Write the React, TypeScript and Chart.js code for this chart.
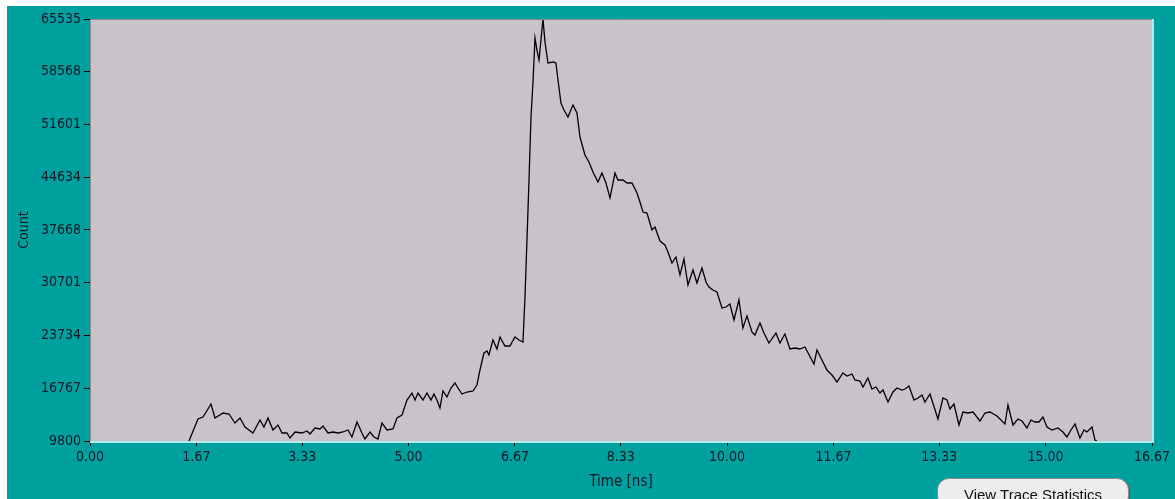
import React, { useEffect, useRef } from "react";
import { Chart, registerables } from "chart.js";

Chart.register(...registerables);

// Time axis (ns) and photon counts
const TIME_NS: number[] = [
  1.554, 1.695, 1.774, 1.899, 1.962, 2.088, 2.182, 2.276, 2.354, 2.433,
  2.558, 2.668, 2.731, 2.794, 2.872, 2.951, 3.014, 3.092, 3.139, 3.218,
  3.328, 3.406, 3.453, 3.532, 3.61, 3.657, 3.736, 3.814, 3.893, 3.971,
  4.05, 4.112, 4.191, 4.269, 4.316, 4.395, 4.458, 4.52, 4.583, 4.662,
  4.756, 4.819, 4.897, 4.976, 5.054, 5.101, 5.148, 5.227, 5.289, 5.352,
  5.399, 5.446, 5.493, 5.54, 5.603, 5.666, 5.729, 5.776, 5.839, 5.917,
  6.011, 6.074, 6.121, 6.184, 6.231, 6.262, 6.325, 6.388, 6.435, 6.513,
  6.592, 6.67, 6.733, 6.796, 6.828, 6.859, 6.891, 6.922, 6.953, 6.985,
  7.016, 7.048, 7.079, 7.11, 7.142, 7.189, 7.267, 7.314, 7.346, 7.393,
  7.44, 7.502, 7.581, 7.644, 7.691, 7.769, 7.832, 7.895, 7.973, 8.036,
  8.099, 8.162, 8.24, 8.287, 8.366, 8.429, 8.507, 8.586, 8.633, 8.68,
  8.743, 8.821, 8.868, 8.947, 9.025, 9.072, 9.135, 9.198, 9.261, 9.323,
  9.386, 9.465, 9.527, 9.606, 9.669, 9.716, 9.778, 9.841, 9.92, 9.982,
  10.045, 10.108, 10.186, 10.249, 10.312, 10.39, 10.437, 10.516, 10.579, 10.657,
  10.767, 10.83, 10.908, 10.987, 11.065, 11.144, 11.222, 11.364, 11.411, 11.489,
  11.568, 11.646, 11.725, 11.819, 11.882, 11.96, 12.007, 12.086, 12.133, 12.211,
  12.274, 12.337, 12.4, 12.447, 12.526, 12.604, 12.667, 12.745, 12.793, 12.855,
  12.934, 12.997, 13.059, 13.106, 13.185, 13.31, 13.389, 13.452, 13.499, 13.561,
  13.64, 13.703, 13.781, 13.86, 13.97, 14.048, 14.127, 14.236, 14.362, 14.409,
  14.488, 14.566, 14.629, 14.707, 14.77, 14.833, 14.896, 14.958, 15.021, 15.1,
  15.194, 15.272, 15.335, 15.398, 15.461, 15.539, 15.602, 15.649, 15.728, 15.775,
  15.806,
];

const COUNTS: number[] = [
  9800, 12706, 12970, 14687, 12838, 13498, 13366, 12177, 12838, 11649,
  10857, 12573, 11649, 12838, 11253, 11913, 10857, 10857, 10196, 10989,
  10857, 11121, 10724, 11517, 11385, 11781, 10857, 10989, 10857, 10989,
  11253, 10328, 12309, 10857, 10064, 10989, 10328, 10064, 12177, 11253,
  11385, 12838, 13234, 15215, 16139, 15215, 16139, 15215, 16139, 15215,
  16007, 15215, 14158, 16404, 15611, 16800, 17460, 16800, 16007, 16271,
  16404, 17196, 19177, 21422, 21686, 21158, 23139, 21950, 23535, 22347,
  22347, 23535, 23139, 22875, 28818, 36346, 44270, 52591, 57081, 63024,
  61439, 60119, 62760, 65535, 62496, 59722, 59855, 59722, 57477, 54440,
  53515, 52591, 54176, 53119, 49949, 47572, 46648, 45327, 44006, 45195,
  43874, 41893, 45195, 44270, 44270, 43874, 43874, 42553, 41364, 40044,
  39912, 37667, 38063, 36214, 35686, 34761, 33308, 34101, 31724, 33837,
  30403, 32384, 30667, 32648, 30799, 30139, 29743, 29478, 27365, 27497,
  27893, 25780, 28422, 24724, 26309, 24196, 23799, 25384, 24063, 22743,
  24063, 22743, 23931, 21950, 22082, 21950, 22215, 19969, 21818, 20498,
  19177, 18517, 17592, 18781, 18385, 18649, 17856, 17724, 16932, 18120,
  16668, 16932, 16139, 16536, 14951, 16271, 16800, 16536, 16668, 17064,
  15215, 15479, 15875, 14951, 16007, 12706, 15479, 15215, 14026, 14687,
  11913, 13630, 13498, 13630, 12441, 13498, 13630, 13102, 12045, 14555,
  11913, 12706, 12441, 11517, 12573, 12309, 12309, 12970, 11649, 11253,
  11517, 10989, 10328, 11253, 12045, 10196, 11253, 10989, 11649, 9932,
  9800,
];

const Y_TICKS: number[] = [9800, 16767, 23734, 30701, 37668, 44634, 51601, 58568, 65535];
const X_TICKS: number[] = [0, 1.67, 3.33, 5.0, 6.67, 8.33, 10.0, 11.67, 13.33, 15.0, 16.67];

const TEAL = "#00A09F";
const PLOT_BG = "#C7C3C9";
const TEXT = "#0E1A28";
const FONT_FAMILY = '"Liberation Sans Narrow", "DejaVu Sans Condensed", "Liberation Sans", Arial, sans-serif';

const frame = {
  id: "frame",
  beforeDraw(chart: any) {
    const { ctx, chartArea: a } = chart;
    ctx.save();
    ctx.fillStyle = PLOT_BG;
    ctx.fillRect(a.left, a.top, a.right - a.left, a.bottom - a.top);
    ctx.restore();
  },
  afterDraw(chart: any) {
    const { ctx, chartArea: a } = chart;
    ctx.save();
    ctx.lineWidth = 1;
    ctx.strokeStyle = "#8A8A8E";
    ctx.beginPath();
    ctx.moveTo(a.left + 0.5, a.bottom);
    ctx.lineTo(a.left + 0.5, a.top + 0.5);
    ctx.lineTo(a.right, a.top + 0.5);
    ctx.stroke();
    ctx.lineWidth = 2;
    ctx.strokeStyle = "#B4ECEC";
    ctx.beginPath();
    ctx.moveTo(a.left, a.bottom + 1);
    ctx.lineTo(a.right + 1, a.bottom + 1);
    ctx.lineTo(a.right + 1, a.top);
    ctx.stroke();
    ctx.restore();
  },
};

export default function App() {
  const ref = useRef<HTMLCanvasElement | null>(null);

  useEffect(() => {
    if (!ref.current) return;
    const data = TIME_NS.map((t, i) => ({ x: t, y: COUNTS[i] }));
    const chart = new Chart(ref.current, {
      type: "line",
      data: {
        datasets: [
          {
            data,
            borderColor: "#000000",
            borderWidth: 1.3,
            pointRadius: 0,
            tension: 0,
            fill: false,
          },
        ],
      },
      options: {
        animation: false,
        responsive: false,
        devicePixelRatio: 1,
        layout: { padding: { left: 0, right: 23, top: 13, bottom: 0 } },
        plugins: { legend: { display: false }, tooltip: { enabled: false } },
        scales: {
          x: {
            type: "linear",
            min: 0,
            max: 16.67,
            afterBuildTicks: (s: any) => {
              s.ticks = X_TICKS.map((v) => ({ value: v }));
            },
            afterFit: (s: any) => {
              s.height = 58;
            },
            grid: { drawOnChartArea: false, drawTicks: true, tickLength: 5, color: "#000000" },
            border: { display: false },
            ticks: {
              color: TEXT,
              padding: 3,
              maxRotation: 0,
              autoSkip: false,
              font: { family: FONT_FAMILY, size: 14 },
              callback: (v: any) => Number(v).toFixed(2),
            },
            title: {
              display: true,
              text: "Time [ns]",
              color: TEXT,
              font: { family: FONT_FAMILY, size: 15 },
              padding: { top: 0, bottom: 8 },
            },
          },
          y: {
            type: "linear",
            min: 9800,
            max: 65535,
            afterBuildTicks: (s: any) => {
              s.ticks = Y_TICKS.map((v) => ({ value: v }));
            },
            afterFit: (s: any) => {
              s.width = 83;
            },
            grid: { drawOnChartArea: false, drawTicks: true, tickLength: 6, color: "#000000" },
            border: { display: false },
            ticks: {
              color: TEXT,
              padding: 3,
              autoSkip: false,
              font: { family: FONT_FAMILY, size: 14 },
              callback: (v: any) => String(v),
            },
            title: {
              display: true,
              text: "Count",
              color: TEXT,
              font: { family: FONT_FAMILY, size: 14 },
              padding: { top: 9, bottom: 0 },
            },
          },
        },
      },
      plugins: [frame],
    });
    return () => chart.destroy();
  }, []);

  return (
    <div>
      <div
        style={{
          position: "fixed",
          left: 7,
          top: 6,
          width: 1168,
          height: 493,
          background: TEAL,
          overflow: "hidden",
        }}
      >
        <canvas ref={ref} width={1168} height={493} style={{ display: "block", width: 1168, height: 493 }} />
        <div
          style={{
            position: "absolute",
            left: 930,
            top: 472,
            width: 192,
            height: 30,
            borderRadius: 12,
            background: "#EDEDED",
            border: "1px solid #8C8C8C",
            boxShadow: "1px 1px 0 #5A5A5A",
            boxSizing: "border-box",
            fontFamily: '"Liberation Sans", Arial, sans-serif',
            fontSize: 15,
            color: "#111111",
            textAlign: "center",
            paddingTop: 7,
            whiteSpace: "nowrap",
          }}
        >
          View Trace Statistics
        </div>
      </div>
    </div>
  );
}
